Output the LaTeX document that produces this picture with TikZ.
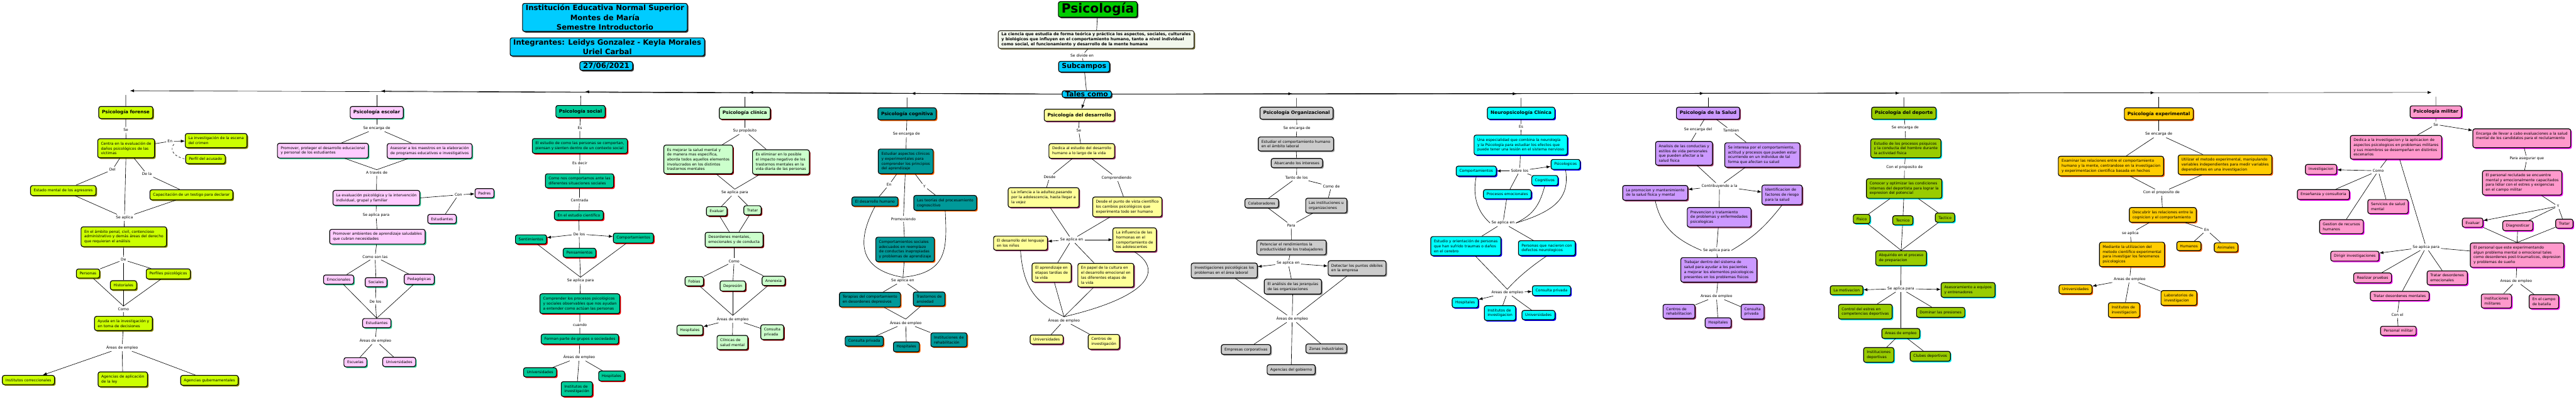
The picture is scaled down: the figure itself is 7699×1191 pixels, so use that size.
\documentclass[tikz,border=0pt]{standalone}
\usepackage{fontspec}
\setmainfont{DejaVu Sans}
\usetikzlibrary{arrows.meta, shadows}

\definecolor{lima}{HTML}{CCFF00}
\definecolor{oliva}{HTML}{8A8A00}
\definecolor{rosa}{HTML}{FFCCFF}
\definecolor{verdeagua}{HTML}{33CC99}
\definecolor{turquesa}{HTML}{00CC99}
\definecolor{rojo}{HTML}{FF0000}
\definecolor{menta}{HTML}{CCFFCC}
\definecolor{granate}{HTML}{800000}
\definecolor{petroleo}{HTML}{009999}
\definecolor{naranja}{HTML}{FF6600}
\definecolor{amarillo}{HTML}{FFFF99}
\definecolor{ciruela}{HTML}{993366}
\definecolor{gris}{HTML}{CCCCCC}
\definecolor{grisosc}{HTML}{999999}
\definecolor{cian}{HTML}{00FFFF}
\definecolor{azul}{HTML}{0000FF}
\definecolor{lavanda}{HTML}{CC99FF}
\definecolor{pasto}{HTML}{99CC00}
\definecolor{ambar}{HTML}{FFCC00}
\definecolor{chicle}{HTML}{FF99CC}
\definecolor{fucsia}{HTML}{FF00FF}
\definecolor{celeste}{HTML}{00CCFF}
\definecolor{verdepsi}{HTML}{00CC00}
\definecolor{hueso}{HTML}{F2F7EC}

\tikzset{
  sombra/.style={drop shadow={shadow xshift=1.7pt, shadow yshift=-1.7pt, fill=#1, opacity=1}},
  caja/.style={draw, line width=1.1pt, rounded corners=3pt, align=left,
    inner xsep=4.8pt, inner ysep=4.7pt, font=\fontsize{5.6}{7.25}\selectfont},
  cabecera/.style={font=\bfseries\fontsize{6.9}{8.5}\selectfont, inner ysep=5.5pt},
  enlace/.style={font=\fontsize{5.6}{7.25}\selectfont, inner sep=2pt, align=center},
  union/.style={circle, inner sep=0pt, minimum size=12pt},
  flecha/.style={-{Latex[length=6pt,width=4.5pt]}},
  encabezado/.style={caja, fill=celeste, sombra=black!75, align=center,
    font=\bfseries\fontsize{11}{14.5}\selectfont, inner ysep=2pt},
  forense/.style={caja, fill=lima, sombra=oliva},
  escolar/.style={caja, fill=rosa, sombra=verdeagua},
  social/.style={caja, fill=turquesa, sombra=rojo},
  clinica/.style={caja, fill=menta, sombra=granate},
  cognitiva/.style={caja, fill=petroleo, sombra=naranja},
  desarrollo/.style={caja, fill=amarillo, sombra=ciruela},
  organiz/.style={caja, fill=gris, sombra=grisosc},
  neuro/.style={caja, fill=cian, sombra=azul},
  salud/.style={caja, fill=lavanda, sombra=ciruela},
  deporte/.style={caja, fill=pasto, sombra=cian},
  experim/.style={caja, fill=ambar, sombra=naranja},
  militar/.style={caja, fill=chicle, sombra=fucsia}
}

\begin{document}
\begin{tikzpicture}[x=0.5pt, y=-0.5pt, line width=0.6pt]
\useasboundingbox (0,0) rectangle (7699,1191);

% Encabezado
\node[encabezado] (tit) at (1808,52) {Institución Educativa Normal Superior\\Montes de María\\Semestre Introductorio};
\node[encabezado] (integ) at (1815,140) {Integrantes: Leidys Gonzalez - Keyla Morales\\Uriel Carbal};
\node[encabezado] (fecha) at (1812,197) {27/06/2021};

% Psicología
\node[caja, fill=verdepsi, sombra=black!75, font=\bfseries\fontsize{19}{22}\selectfont, inner ysep=2pt] (psi) at (3281,28) {Psicología};
\node[caja, fill=hueso, draw=black!80!olive, sombra=olive!60!black, font=\bfseries\fontsize{6}{7.2}\selectfont, inner ysep=3pt] (def) at (3276,118) {La ciencia que estudia de forma teórica y práctica los aspectos, sociales, culturales\\y biológicos que influyen en el comportamiento humano, tanto a nivel individual\\como social, el funcionamiento y desarrollo de la mente humana};
\node[enlace] (divide) at (3234,166) {Se divide en};
\node[caja, fill=celeste, sombra=black!75, font=\bfseries\fontsize{10.3}{12}\selectfont, inner ysep=3pt] (sub) at (3240,199) {Subcampos};
\node[caja, fill=celeste, sombra=black!75, font=\bfseries\fontsize{10.3}{12}\selectfont, inner ysep=1pt] (tales) at (3248,281) {Tales como};
\draw (psi) -- (def) -- (divide) -- (sub) -- (tales);

% Uniones de las ramas
\node[union] (jfor) at (376,271) {};
\node[union] (jesc) at (1126,272) {};
\node[union] (jsoc) at (1736,274) {};
\node[union] (jcli) at (2226,276) {};
\node[union] (jcog) at (2711,279) {};
\node[union] (jorg) at (3875,280) {};
\node[union] (jneu) at (4546,280) {};
\node[union] (jsal) at (5105,279) {};
\node[union] (jdep) at (5690,278) {};
\node[union] (jexp) at (6452,277) {};
\node[union] (jmil) at (7280,276) {};
\foreach \j in {jfor,jesc,jsoc,jcli,jcog}
  \draw[flecha] (tales.west) -- (\j);
\foreach \j in {jorg,jneu,jsal,jdep,jexp,jmil}
  \draw[flecha] (tales.east) -- (\j);

% Psicología forense
\node[forense, cabecera] (hfor) at (376,336) {Psicología forense};
\node[enlace] (f_se) at (376,388) {Se};
\node[forense] (f_centra) at (377,443) {Centra en la evaluación de\\daños psicológicos de las\\victimas};
\node[enlace] (f_en) at (508,422) {En};
\node[forense] (f_escena) at (646,420) {La investigación de la escena\\del crimen};
\node[forense] (f_perfil) at (614,475) {Perfil del acusado};
\node[enlace] (f_del) at (336,507) {Del};
\node[enlace] (f_dela) at (439,520) {De la};
\node[forense] (f_estado) at (189,569) {Estado mental de los agresores};
\node[forense] (f_testigo) at (572,582) {Capacitación de un testigo para declarar};
\node[enlace] (f_aplica) at (372,650) {Se aplica};
\node[forense] (f_ambito) at (370,707) {En el ámbito penal, civil, contencioso\\administrativo y demás áreas del derecho\\que requieran el análisis};
\node[enlace] (f_de) at (369,776) {De};
\node[forense] (f_personas) at (263,817) {Personas};
\node[forense] (f_hist) at (369,852) {Historiales};
\node[forense] (f_perfiles) at (503,818) {Perfiles psicológicos};
\node[enlace] (f_como) at (369,923) {Como};
\node[forense] (f_ayuda) at (369,966) {Ayuda en la investigación y\\en toma de decisiones};
\node[enlace] (f_areas) at (365,1038) {Áreas de empleo};
\node[forense] (f_corr) at (85,1135) {Institutos correccionales};
\node[forense] (f_ley) at (367,1133) {Agencias de aplicación\\de la ley};
\node[forense] (f_gob) at (626,1136) {Agencias gubernamentales};
\draw (jfor) -- (hfor) -- (f_se) -- (f_centra);
\draw (f_centra) -- (f_en);
\draw[flecha] (f_en) -- (f_escena);
\draw[dashed] (f_en.south east) .. controls (510,442) and (510,465) .. (f_perfil.west);
\draw (f_centra) -- (f_del) -- (f_estado);
\draw (f_centra) -- (f_dela) -- (f_testigo);
\draw (f_estado) -- (f_aplica);
\draw (f_centra) -- (f_aplica);
\draw (f_testigo) -- (f_aplica);
\draw (f_aplica) -- (f_ambito) -- (f_de);
\draw (f_de) -- (f_personas);
\draw (f_de) -- (f_hist);
\draw (f_de) -- (f_perfiles);
\draw (f_personas) -- (f_como.north);
\draw (f_hist) -- (f_como.north);
\draw (f_perfiles) -- (f_como.north);
\draw (f_como) -- (f_ayuda) -- (f_areas);
\draw[flecha] (f_areas) -- (f_corr);
\draw (f_areas) -- (f_ley);
\draw (f_areas) -- (f_gob);

% Psicología escolar
\node[escolar, cabecera] (hesc) at (1126,336) {Psicología escolar};
\node[enlace] (e_encarga) at (1126,383) {Se encarga de};
\node[escolar] (e_promover) at (965,450) {Promover, proteger el desarrollo educacional\\y personal de los estudiantes};
\node[escolar] (e_asesorar) at (1284,451) {Asesorar a los maestros en la elaboración\\de programas educativos e investigativos};
\node[enlace] (e_traves) at (1126,516) {A través de};
\node[escolar] (e_eval) at (1125,591) {La evaluación psicológica y la intervención\\individual, grupal y familiar};
\node[enlace] (e_con) at (1370,582) {Con};
\node[escolar] (e_padres) at (1448,577) {Padres};
\node[escolar] (e_estud1) at (1321,654) {Estudiantes};
\node[enlace] (e_aplica) at (1124,642) {Se aplica para};
\node[escolar] (e_amb) at (1128,707) {Promover ambientes de aprendizaje saludables\\que cubran necesidades};
\node[enlace] (e_comoson) at (1121,767) {Como son las};
\node[escolar] (e_emoc) at (1012,835) {Emocionales};
\node[escolar] (e_soc) at (1124,843) {Sociales};
\node[escolar] (e_ped) at (1253,834) {Pedagógicas};
\node[enlace] (e_delos) at (1122,900) {De los};
\node[escolar] (e_estud2) at (1126,965) {Estudiantes};
\node[enlace] (e_areas) at (1122,1017) {Áreas de empleo};
\node[escolar] (e_esc) at (1062,1082) {Escuelas};
\node[escolar] (e_univ) at (1193,1081) {Universidades};
\draw (jesc) -- (hesc) -- (e_encarga);
\draw (e_encarga) -- (e_promover);
\draw (e_encarga) -- (e_asesorar);
\draw (e_promover) -- (e_traves.north);
\draw (e_asesorar) -- (e_traves.north);
\draw (e_traves) -- (e_eval);
\draw (e_eval.east) -- (e_con);
\draw[flecha] (e_con) -- (e_padres);
\draw (e_con) -- (e_estud1);
\draw (e_eval) -- (e_aplica) -- (e_amb) -- (e_comoson);
\draw (e_comoson) -- (e_emoc);
\draw (e_comoson) -- (e_soc);
\draw (e_comoson) -- (e_ped);
\draw (e_emoc) -- (e_estud2.north);
\draw (e_ped) -- (e_estud2.north);
\draw (e_soc) -- (e_delos) -- (e_estud2) -- (e_areas);
\draw (e_areas) -- (e_esc);
\draw (e_areas) -- (e_univ);

% Psicología social
\node[social, cabecera] (hsoc) at (1735,333) {Psicología social};
\node[enlace] (s_es) at (1733,383) {Es};
\node[social] (s_estudio) at (1733,436) {El estudio de como las personas se comportan,\\piensan y sienten dentro de un contexto social};
\node[enlace] (s_esdecir) at (1733,488) {Es decir};
\node[social] (s_como) at (1732,540) {Como nos comportamos ante las\\diferentes situaciones sociales};
\node[enlace] (s_centrada) at (1732,599) {Centrada};
\node[social] (s_cient) at (1730,643) {En el estudio científico};
\node[enlace] (s_delos) at (1731,699) {De los};
\node[social] (s_sent) at (1587,715) {Sentimientos};
\node[social] (s_pens) at (1732,755) {Pensamientos};
\node[social] (s_comp) at (1893,711) {Comportamientos};
\node[enlace] (s_aplica) at (1735,838) {Se aplica para};
\node[social] (s_compr) at (1733,907) {Comprender los procesos psicológicos\\y sociales observables que nos ayudan\\a entender como actúan las personas};
\node[enlace] (s_cuando) at (1733,970) {cuando};
\node[social] (s_grupos) at (1733,1013) {Forman parte de grupos o sociedades};
\node[enlace] (s_areas) at (1731,1067) {Áreas de empleo};
\node[social] (s_univ) at (1614,1112) {Universidades};
\node[social] (s_inst) at (1724,1162) {Institutos de\\investigación};
\node[social] (s_hosp) at (1828,1123) {Hospitales};
\draw (jsoc) -- (hsoc) -- (s_es) -- (s_estudio) -- (s_esdecir) -- (s_como) -- (s_centrada) -- (s_cient) -- (s_delos);
\draw[flecha] (s_delos) -- (s_sent);
\draw[flecha] (s_delos) -- (s_comp);
\draw (s_delos) -- (s_pens);
\draw (s_sent) -- (s_aplica.north);
\draw (s_pens) -- (s_aplica.north);
\draw (s_comp) -- (s_aplica.north);
\draw (s_aplica) -- (s_compr) -- (s_cuando) -- (s_grupos) -- (s_areas);
\draw (s_areas) -- (s_univ);
\draw (s_areas) -- (s_inst);
\draw (s_areas) -- (s_hosp);

% Psicología clínica
\node[clinica, cabecera] (hcli) at (2226,338) {Psicología clínica};
\node[enlace] (c_prop) at (2226,391) {Su propósito};
\node[clinica] (c_mejorar) at (2087,476) {Es mejorar la salud mental y\\de manera mas especifica,\\aborda todos aquellos elementos\\involucrados en los distintos\\trastornos mentales};
\node[clinica] (c_elim) at (2334,484) {Es eliminar en lo posible\\el impacto negativo de los\\trastornos mentales en la\\vida diaria de las personas};
\node[enlace] (c_aplica) at (2196,575) {Se aplica para};
\node[clinica] (c_eval) at (2142,631) {Evaluar};
\node[clinica] (c_trat) at (2249,628) {Tratar};
\node[clinica] (c_des) at (2194,716) {Desordenes mentales,\\emocionales y de conducta};
\node[enlace] (c_como) at (2194,780) {Como};
\node[clinica] (c_fob) at (2075,840) {Fobias};
\node[clinica] (c_dep) at (2190,854) {Depresión};
\node[clinica] (c_ano) at (2312,839) {Anorexia};
\node[enlace] (c_areas) at (2190,953) {Áreas de empleo};
\node[clinica] (c_hosp) at (2062,986) {Hospitales};
\node[clinica] (c_clin) at (2189,1023) {Clínicas de\\salud mental};
\node[clinica] (c_cons) at (2308,992) {Consulta\\privada};
\draw (jcli) -- (hcli) -- (c_prop);
\draw (c_prop) -- (c_mejorar);
\draw (c_prop) -- (c_elim);
\draw (c_mejorar) -- (c_aplica.north);
\draw (c_elim) -- (c_aplica.north);
\draw (c_aplica) -- (c_eval);
\draw (c_aplica) -- (c_trat);
\draw (c_eval) -- (c_des);
\draw (c_trat) -- (c_des);
\draw (c_des) -- (c_como);
\draw (c_como) -- (c_fob);
\draw (c_como) -- (c_dep);
\draw (c_como) -- (c_ano);
\draw (c_fob) -- (c_areas.north);
\draw (c_dep) -- (c_areas.north);
\draw (c_ano) -- (c_areas.north);
\draw[flecha] (c_areas) -- (c_hosp);
\draw (c_areas) -- (c_clin);
\draw (c_areas) -- (c_cons);

% Psicología cognitiva
\node[cognitiva, cabecera] (hcog) at (2711,340) {Psicología cognitiva};
\node[enlace] (g_encarga) at (2709,400) {Se encarga de};
\node[cognitiva] (g_estudiar) at (2707,482) {Estudiar aspectos clínicos\\y experimentales para\\comprender los principios\\del aprendizaje};
\node[enlace] (g_en) at (2657,552) {En};
\node[enlace] (g_y) at (2763,557) {Y};
\node[enlace] (g_prom) at (2700,654) {Promoviendo};
\node[cognitiva] (g_desh) at (2615,602) {El desarrollo humano};
\node[cognitiva] (g_teor) at (2825,606) {Las teorías del procesamiento\\cognoscitivo};
\node[cognitiva] (g_comp) at (2705,745) {Comportamientos sociales\\adecuados en reemplazo\\de conductas inapropiadas\\y problemas de aprendizaje};
\node[enlace] (g_aplica) at (2698,838) {Se aplica en};
\node[cognitiva] (g_ter) at (2600,895) {Terapias del comportamiento\\en desordenes depresivos};
\node[cognitiva] (g_ans) at (2777,893) {Trastornos de\\ansiedad};
\node[enlace] (g_areas) at (2707,964) {Áreas de empleo};
\node[cognitiva] (g_cons) at (2583,1019) {Consulta privada};
\node[cognitiva] (g_hosp) at (2709,1036) {Hospitales};
\node[cognitiva] (g_inst) at (2836,1015) {Instituciones de\\rehabilitación};
\draw (jcog) -- (hcog) -- (g_encarga) -- (g_estudiar);
\draw (g_estudiar) -- (g_en) -- (g_desh);
\draw (g_estudiar) -- (g_y) -- (g_teor);
\draw (g_estudiar) -- (g_prom) -- (g_comp);
\draw (g_desh.south) .. controls (2560,720) and (2565,805) .. (g_aplica.north);
\draw (g_teor.south) .. controls (2830,740) and (2835,815) .. (g_aplica.north);
\draw (g_comp) -- (g_aplica);
\draw (g_aplica) -- (g_ter);
\draw (g_aplica) -- (g_ans);
\draw (g_ter) -- (g_areas.north);
\draw (g_ans) -- (g_areas.north);
\draw (g_areas) -- (g_cons);
\draw (g_areas) -- (g_hosp);
\draw (g_areas) -- (g_inst);

% Psicología del desarrollo
\node[desarrollo, cabecera] (hdes) at (3226,344) {Psicología del desarrollo};
\node[enlace] (d_se) at (3224,390) {Se};
\node[desarrollo] (d_dedica) at (3233,451) {Dedica al estudio del desarrollo\\humano a lo largo de la vida};
\node[enlace] (d_desde) at (3137,529) {Desde};
\node[enlace] (d_compr) at (3337,531) {Comprendiendo};
\node[desarrollo] (d_inf) at (3119,590) {La infancia a la adultez,pasando\\por la adolescencia, hasta llegar a\\la vejez};
\node[desarrollo] (d_cien) at (3369,618) {Desde el punto de vista científico\\los cambios psicológicos que\\experimenta todo ser humano};
\node[enlace] (d_aplica) at (3203,716) {Se aplica en};
\node[desarrollo] (d_leng) at (3050,726) {El desarrollo del lenguaje\\en los niños};
\node[desarrollo] (d_apr) at (3143,814) {El aprendizaje en\\etapas tardías de\\la vida};
\node[desarrollo] (d_cult) at (3305,822) {En papel de la cultura en\\el desarrollo emocional en\\las diferentes etapas de\\la vida};
\node[desarrollo] (d_horm) at (3391,716) {La influencia de las\\hormonas en el\\comportamiento de\\los adolescentes};
\node[enlace] (d_areas) at (3180,957) {Áreas de empleo};
\node[desarrollo] (d_univ) at (3128,1014) {Universidades};
\node[desarrollo] (d_cent) at (3299,1021) {Centros de\\investigación};
\draw[flecha] (tales) -- (hdes);
\draw (hdes) -- (d_se) -- (d_dedica);
\draw (d_dedica) -- (d_desde) -- (d_inf);
\draw (d_dedica) -- (d_compr) -- (d_cien);
\draw (d_inf) -- (d_aplica);
\draw (d_cien) -- (d_aplica);
\draw[flecha] (d_aplica) -- (d_leng);
\draw[flecha] (d_aplica) -- (d_horm);
\draw (d_aplica) -- (d_apr);
\draw (d_aplica) -- (d_cult);
\draw (d_leng.south) .. controls (3058,865) and (3100,905) .. (d_areas.north);
\draw (d_apr) -- (d_areas.north);
\draw (d_cult) -- (d_areas.north);
\draw (d_horm.south) .. controls (3475,805) and (3440,885) .. (d_areas.north);
\draw (d_areas) -- (d_univ);
\draw (d_areas) -- (d_cent);

% Psicología Organizacional
\node[organiz, cabecera] (horg) at (3875,338) {Psicología Organizacional};
\node[enlace] (o_encarga) at (3876,383) {Se encarga de};
\node[organiz] (o_estudiar) at (3873,430) {Estudiar el comportamiento humano\\en el ámbito laboral};
\node[organiz] (o_abarca) at (3876,487) {Abarcando los intereses};
\node[enlace] (o_tanto) at (3875,531) {Tanto de los};
\node[enlace] (o_comode) at (3979,557) {Como de};
\node[organiz] (o_colab) at (3771,607) {Colaboradores};
\node[organiz] (o_inst) at (3964,614) {Las instituciones u\\organizaciones};
\node[enlace] (o_para) at (3859,673) {Para};
\node[organiz] (o_pot) at (3860,739) {Potenciar el rendimientos la\\productividad de los trabajadores};
\node[enlace] (o_aplica) at (3850,786) {Se aplica en};
\node[organiz] (o_inv) at (3659,808) {Investigaciones psicológicas los\\problemas en el área laboral};
\node[organiz] (o_det) at (4056,801) {Detectar los puntos débiles\\en la empresa};
\node[organiz] (o_jer) at (3864,856) {El análisis de las jerarquías\\de las organizaciones};
\node[enlace] (o_areas) at (3862,952) {Áreas de empleo};
\node[organiz] (o_emp) at (3724,1044) {Empresas corporativas};
\node[organiz] (o_zon) at (3964,1041) {Zonas industriales};
\node[organiz] (o_gob) at (3859,1104) {Agencias del gobierno};
\draw (jorg) -- (horg) -- (o_encarga) -- (o_estudiar) -- (o_abarca) -- (o_tanto);
\draw (o_tanto) -- (o_colab);
\draw (o_tanto) -- (o_comode) -- (o_inst);
\draw (o_colab) -- (o_para);
\draw (o_inst) -- (o_para);
\draw (o_para) -- (o_pot) -- (o_aplica);
\draw[flecha] (o_aplica) -- (o_inv);
\draw[flecha] (o_aplica) -- (o_det);
\draw (o_aplica) -- (o_jer);
\draw (o_inv) -- (o_areas);
\draw (o_jer) -- (o_areas);
\draw (o_det) -- (o_areas);
\draw (o_areas) -- (o_emp);
\draw (o_areas) -- (o_zon);
\draw (o_areas) -- (o_gob);

% Neuropsicología Clínica
\node[neuro, cabecera] (hneu) at (4546,338) {Neuropsicología Clínica};
\node[enlace] (n_es) at (4546,379) {Es};
\node[neuro] (n_esp) at (4545,433) {Una especialidad que combina la neurología\\y la Psicología para estudiar los efectos que\\puede tener una lesión en el sistema nervioso};
\node[enlace] (n_sobre) at (4542,510) {Sobre los};
\node[neuro] (n_comp) at (4412,511) {Comportamientos};
\node[neuro] (n_psi) at (4679,491) {Psicologicos};
\node[neuro] (n_cog) at (4617,539) {Cognitivos};
\node[neuro] (n_emo) at (4505,580) {Procesos emocionales};
\node[enlace] (n_aplica) at (4492,666) {Se aplica en};
\node[neuro] (n_est) at (4381,735) {Estudio y orientación de personas\\que han sufrido traumas o daños\\en el cerebro};
\node[neuro] (n_nac) at (4623,741) {Personas que nacieron con\\defectos neurologicos};
\node[enlace] (n_areas) at (4505,874) {Areas de empleo};
\node[neuro] (n_hosp) at (4379,904) {Hospitales};
\node[neuro] (n_inst) at (4483,935) {Institutos de\\investigacion};
\node[neuro] (n_cons) at (4637,868) {Consulta privada};
\node[neuro] (n_univ) at (4598,941) {Universidades};
\draw (jneu) -- (hneu) -- (n_es) -- (n_esp) -- (n_sobre);
\draw[flecha] (n_sobre) -- (n_comp);
\draw[flecha] (n_sobre) -- (n_psi);
\draw (n_sobre) -- (n_cog);
\draw (n_sobre) -- (n_emo);
\draw (n_comp.south) .. controls (4398,600) and (4425,640) .. (n_aplica.west);
\draw (n_emo) -- (n_aplica);
\draw (n_cog.south) .. controls (4602,610) and (4585,640) .. (n_aplica.east);
\draw (n_psi.south) .. controls (4692,590) and (4650,630) .. (n_aplica.east);
\draw (n_aplica) -- (n_est);
\draw (n_aplica) -- (n_nac);
\draw (n_est) -- (n_areas.north);
\draw (n_nac.south) .. controls (4570,800) and (4530,835) .. (n_areas.north);
\draw[flecha] (n_areas) -- (n_hosp);
\draw[flecha] (n_areas) -- (n_cons);
\draw (n_areas) -- (n_inst);
\draw (n_areas) -- (n_univ);

% Psicología de la Salud
\node[salud, cabecera] (hsal) at (5105,338) {Psicología de la Salud};
\node[enlace] (h_encarga) at (5075,387) {Se encarga del};
\node[enlace] (h_tamb) at (5174,390) {Tambien};
\node[salud] (h_anal) at (5033,458) {Analisis de las conductas y\\estilos de vida personales\\que pueden afectar a la\\salud fisica};
\node[salud] (h_inter) at (5267,463) {Se interesa por el comportamiento,\\actitud y procesos que pueden estar\\ocurriendo en un individuo de tal\\forma que afectan su salud};
\node[enlace] (h_contr) at (5139,556) {Contribuyendo a la};
\node[salud] (h_prom) at (4947,576) {La promocion y mantenimiento\\de la salud fisica y mental};
\node[salud] (h_ident) at (5326,582) {Identificacion de\\factores de riesgo\\para la salud};
\node[salud] (h_prev) at (5138,649) {Prevencion y tratamiento\\de problemas y enfermedades\\psicologicas};
\node[enlace] (h_aplica) at (5130,748) {Se aplica para};
\node[salud] (h_trab) at (5137,806) {Trabajar dentro del sistema de\\salud para ayudar a los pacientes\\a mejorar los elementos psicologicos\\presentes en los problemas fisicos};
\node[enlace] (h_areas) at (5130,885) {Areas de empleo};
\node[salud] (h_cent) at (5018,930) {Centros de\\rehabilitacion};
\node[salud] (h_hosp) at (5135,964) {Hospitales};
\node[salud] (h_cons) at (5238,931) {Consulta\\privada};
\draw (jsal) -- (hsal);
\draw (hsal) -- (h_encarga) -- (h_anal);
\draw (hsal) -- (h_tamb) -- (h_inter);
\draw (h_anal) -- (h_contr);
\draw (h_inter) -- (h_contr);
\draw[flecha] (h_contr) -- (h_prom);
\draw[flecha] (h_contr) -- (h_ident);
\draw (h_contr) -- (h_prev);
\draw (h_prom.south) .. controls (4965,685) and (5020,720) .. (h_aplica.west);
\draw (h_prev) -- (h_aplica);
\draw (h_ident.south) .. controls (5270,685) and (5230,715) .. (h_aplica.east);
\draw (h_aplica) -- (h_trab) -- (h_areas);
\draw (h_areas) -- (h_cent);
\draw (h_areas) -- (h_hosp);
\draw (h_areas) -- (h_cons);

% Psicología del deporte
\node[deporte, cabecera] (hdep) at (5690,338) {Psicología del deporte};
\node[enlace] (p_encarga) at (5694,382) {Se encarga de};
\node[deporte] (p_estudio) at (5696,443) {Estudio de los procesos psiquicos\\y la conducta del hombre durante\\la actividad fisica};
\node[enlace] (p_prop) at (5692,500) {Con el proposito de};
\node[deporte] (p_conocer) at (5691,563) {Conocer y optimizar las condiciones\\internas del deportista para lograr la\\expresion del potencial};
\node[deporte] (p_fis) at (5564,654) {Fisico};
\node[deporte] (p_tec) at (5687,658) {Tecnico};
\node[deporte] (p_tac) at (5813,650) {Tactico};
\node[deporte] (p_adq) at (5682,771) {Abquirido en el proceso\\de preparacion};
\node[enlace] (p_aplica) at (5681,862) {Se aplica para};
\node[deporte] (p_mot) at (5519,867) {La motivacion};
\node[deporte] (p_ases) at (5882,866) {Asesoramiento a equipos\\y entrenadores};
\node[deporte] (p_ctrl) at (5575,931) {Control del estres en\\competencias deportivas};
\node[deporte] (p_dom) at (5800,933) {Dominar las presiones};
\node[deporte] (p_areas) at (5681,996) {Areas de empleo};
\node[deporte] (p_inst) at (5615,1060) {Instituciones\\deportivas};
\node[deporte] (p_club) at (5769,1064) {Clubes deportivos};
\draw (jdep) -- (hdep) -- (p_encarga) -- (p_estudio) -- (p_prop) -- (p_conocer);
\draw (p_conocer) -- (p_fis);
\draw (p_conocer) -- (p_tec);
\draw (p_conocer) -- (p_tac);
\draw (p_fis) -- (p_adq.north);
\draw (p_tec) -- (p_adq.north);
\draw (p_tac) -- (p_adq.north);
\draw (p_adq) -- (p_aplica);
\draw[flecha] (p_aplica) -- (p_mot);
\draw[flecha] (p_aplica) -- (p_ases);
\draw (p_aplica) -- (p_ctrl);
\draw (p_aplica) -- (p_dom);
\draw (p_aplica) -- (p_areas);
\draw (p_areas) -- (p_inst);
\draw (p_areas) -- (p_club);

% Psicología experimental
\node[experim, cabecera] (hexp) at (6452,340) {Psicología experimental};
\node[enlace] (x_encarga) at (6452,401) {Se encarga de};
\node[experim] (x_exam) at (6309,496) {Examinar las relaciones entre el comportamiento\\humano y la mente, centrandose en la investigacion\\y experimentacion cientifica basada en hechos};
\node[experim] (x_util) at (6650,492) {Utilizar el metodo experimental, manipulando\\variables independientes para medir variables\\dependientes en una investigacion};
\node[enlace] (x_prop) at (6460,575) {Con el proposito de};
\node[experim] (x_desc) at (6464,642) {Descubrir las relaciones entre la\\cognicion y el comportamiento};
\node[enlace] (x_en) at (6595,687) {En};
\node[experim] (x_hum) at (6542,735) {Humanos};
\node[experim] (x_ani) at (6653,739) {Animales};
\node[enlace] (x_aplica) at (6367,697) {se aplica};
\node[experim] (x_med) at (6372,760) {Mediante la utilizacion del\\metodo cientifico experimental\\para investigar los fenomenos\\psicologicos};
\node[enlace] (x_areas) at (6365,834) {Areas de empleo};
\node[experim] (x_univ) at (6203,864) {Universidades};
\node[experim] (x_inst) at (6348,926) {Institutos de\\investigacion};
\node[experim] (x_lab) at (6512,890) {Laboratorios de\\investigacion};
\draw (jexp) -- (hexp) -- (x_encarga);
\draw (x_encarga) -- (x_exam);
\draw (x_encarga) -- (x_util);
\draw (x_exam) -- (x_prop);
\draw (x_util) -- (x_prop);
\draw (x_prop) -- (x_desc);
\draw (x_desc) -- (x_en);
\draw (x_en) -- (x_hum);
\draw (x_en) -- (x_ani);
\draw (x_desc) -- (x_aplica) -- (x_med) -- (x_areas);
\draw[flecha] (x_areas) -- (x_univ);
\draw (x_areas) -- (x_inst);
\draw (x_areas) -- (x_lab);

% Psicología militar
\node[militar, cabecera] (hmil) at (7280,334) {Psicología militar};
\node[enlace] (m_se) at (7280,372) {Se};
\node[militar] (m_dedica) at (7161,440) {Dedica a la investigacion y la aplicacion de\\aspectos psicologicos en problemas militares\\y sus miembros se desempeñan en distintos\\escenarios};
\node[militar] (m_encarga) at (7537,413) {Encarga de llevar a cabo evaluaciones a la salud\\mental de los candidatos para el reclutamiento\\\mbox{}};
\node[enlace] (m_como) at (7108,510) {Como};
\node[militar] (m_inv) at (6937,506) {Investigacion};
\node[militar] (m_ens) at (6944,581) {Enseñanza y consultoria};
\node[militar] (m_ges) at (6998,677) {Gestion de recursos\\humanos};
\node[militar] (m_serv) at (7137,617) {Servicios de salud\\mental};
\node[enlace] (m_aplica) at (7251,738) {Se aplica para};
\node[militar] (m_dir) at (7038,765) {Dirigir investigaciones};
\node[militar] (m_real) at (7091,830) {Realizar pruebas};
\node[militar] (m_tdm) at (7172,884) {Tratar desordenes mentales};
\node[enlace] (m_conel) at (7165,941) {Con el};
\node[militar] (m_pers) at (7168,988) {Personal militar};
\node[militar] (m_tde) at (7314,830) {Tratar desordenes\\emocionales};
\node[enlace] (m_aseg) at (7552,474) {Para asegurar que};
\node[militar] (m_recl) at (7538,546) {El personal reclutado se encuentre\\mental y emocionalmente capacitados\\para lidiar con el estres y exigencias\\en el campo militar};
\node[enlace] (m_y) at (7645,616) {Y};
\node[militar] (m_eval) at (7390,665) {Evaluar};
\node[militar] (m_diag) at (7525,674) {Diagnosticar};
\node[militar] (m_trat) at (7664,668) {Tratar};
\node[militar] (m_exp) at (7523,762) {El personal que este experimentando\\algun problema mental o emocional tales\\como desordenes post-traumaticos, depresion\\y problemas de sueño};
\node[enlace] (m_areas) at (7520,839) {Areas de empleo};
\node[militar] (m_instm) at (7461,899) {Instituciones\\militares};
\node[militar] (m_campo) at (7603,901) {En el campo\\de batalla};
\draw (jmil) -- (hmil) -- (m_se) -- (m_dedica);
\draw[flecha] (m_se) -- (m_encarga);
\draw (m_dedica) -- (m_como);
\draw[flecha] (m_como) -- (m_inv);
\draw (m_como) -- (m_ens);
\draw (m_como) -- (m_ges);
\draw (m_como) -- (m_serv);
\draw (m_dedica) -- (m_aplica);
\draw[flecha] (m_aplica) -- (m_dir);
\draw (m_aplica) -- (m_real);
\draw (m_aplica) -- (m_tdm);
\draw (m_aplica) -- (m_tde);
\draw (m_aplica) -- (m_exp);
\draw (m_tdm) -- (m_conel) -- (m_pers);
\draw (m_encarga) -- (m_aseg) -- (m_recl) -- (m_y);
\draw[flecha] (m_y) -- (m_eval);
\draw (m_y) -- (m_diag);
\draw (m_y) -- (m_trat);
\draw (m_eval) -- (m_exp.north);
\draw (m_diag) -- (m_exp.north);
\draw (m_trat) -- (m_exp.north);
\draw (m_exp) -- (m_areas);
\draw (m_areas) -- (m_instm);
\draw (m_areas) -- (m_campo);

\end{tikzpicture}
\end{document}
